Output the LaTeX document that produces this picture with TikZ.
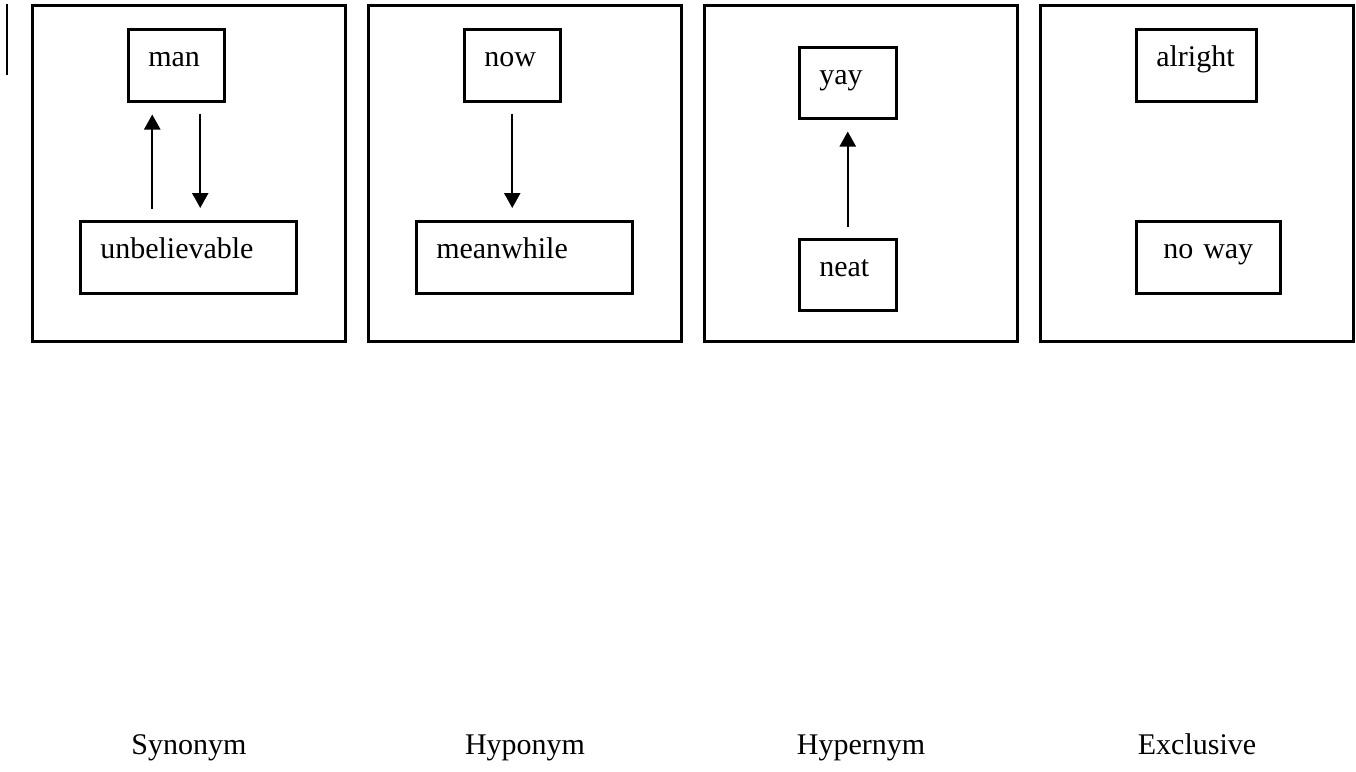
\documentclass[tikz,border=0pt]{standalone}
\usepackage{fontspec}
\setmainfont{Liberation Serif}
\usetikzlibrary{arrows.meta}

\tikzset{
  panel/.style={draw, line width=3pt, anchor=north west, inner sep=0pt,
    minimum width=313pt, minimum height=336pt},
  word/.style={draw, line width=2.5pt, anchor=north west, inner xsep=20pt,
    inner ysep=0pt, text height=37pt, text depth=35pt, align=left, text width=#1},
  link/.style={line width=2.3pt, -{Triangle[width=16pt,length=15pt]},
    shorten <=11pt, shorten >=12pt},
  caption/.style={anchor=base}
}

\begin{document}
\begin{tikzpicture}[x=1pt, y=-1pt, font=\fontsize{30}{36}\selectfont]
\useasboundingbox (0,0) rectangle (1356,771);
\draw[line width=2pt] (7,4) -- (7,75);
\node[panel] (syn) at (31,4) {};
\node[panel] (hypo) at (367,4) {};
\node[panel] (hyper) at (703,4) {};
\node[panel] (excl) at (1039,4) {};

\node[word=56pt] (man) at (127,28) {man};
\node[word=176pt] (unb) at (79,220) {unbelievable};
\node[word=56pt] (now) at (463,28) {now};
\node[word=176pt] (mean) at (415,220) {meanwhile};
\node[word=57pt, text height=37pt, text depth=34pt] (yay) at (798,46) {yay};
\node[word=57pt, text height=37pt, text depth=34pt] (neat) at (798,238) {neat};
\node[word=80pt] (alright) at (1135,28) {alright};
\node[word=104pt] (noway) at (1135,220) {\hspace*{7pt}no way};

\draw[link, transform canvas={xshift=-24pt}] (unb.north -| man.south) -- (man.south);
\draw[link, transform canvas={xshift=24pt}] (man.south) -- (unb.north -| man.south);
\draw[link] (now.south) -- (mean.north -| now.south);
\draw[link] (neat.north) -- (yay.south);

\node[caption] (csyn) at ([yshift=-411pt]syn.south) {Synonym};
\node[caption] (chypo) at ([yshift=-411pt]hypo.south) {Hyponym};
\node[caption] (chyper) at ([yshift=-411pt]hyper.south) {Hypernym};
\node[caption] (cexcl) at ([yshift=-411pt]excl.south) {Exclusive};
\end{tikzpicture}
\end{document}
